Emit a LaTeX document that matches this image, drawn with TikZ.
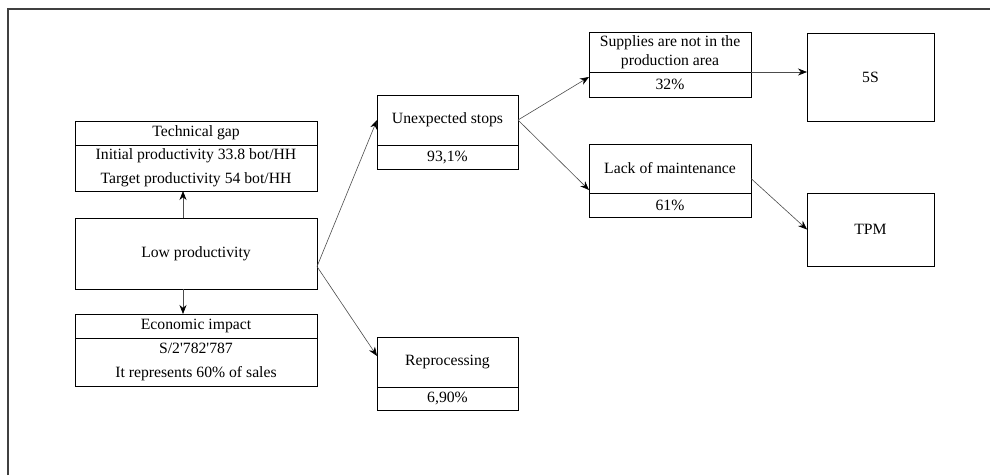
\documentclass[tikz,border=0pt]{standalone}
\usepackage{fontspec}
\setmainfont{Liberation Serif}
\usetikzlibrary{arrows.meta,positioning}

\begin{document}
\begin{tikzpicture}[x=1pt, y=-1pt,
  box/.style={draw, line width=1pt, align=center, inner sep=0pt, outer sep=0pt,
              font=\fontsize{15.7}{19}\selectfont},
  link/.style={-{Stealth[length=9pt,width=7pt,black]}, draw=black!70, line width=0.6pt}]
\useasboundingbox (0,0) rectangle (990,475);
\draw[line width=1.5pt, black!75] (8,475) -- (8,9) -- (990,9);
% left column
\node[box, minimum width=242pt, minimum height=24pt] (gaphead) at (196,133) {Technical gap};
\node[box, minimum width=242pt, minimum height=46pt, below=0pt of gaphead] (gapval)
  {Initial productivity 33.8 bot/HH\\[5pt] Target productivity 54 bot/HH};
\node[box, minimum width=242pt, minimum height=71pt] (low) at (196,253.5) {Low productivity};
\node[box, minimum width=242pt, minimum height=24pt] (econhead) at (196,326) {Economic impact};
\node[box, minimum width=242pt, minimum height=48pt, below=0pt of econhead] (econval)
  {S/2\textquotesingle782\textquotesingle787\\[5pt] It represents 60\% of sales};
% causes
\node[box, minimum width=141pt, minimum height=50pt] (stopshead) at (447.5,120) {Unexpected stops};
\node[box, minimum width=141pt, minimum height=24pt, below=0pt of stopshead] (stopsval) {93,1\%};
\node[box, minimum width=141pt, minimum height=50pt] (reprochead) at (447.5,362) {Reprocessing};
\node[box, minimum width=141pt, minimum height=23pt, below=0pt of reprochead] (reprocval) {6,90\%};
% sub-causes
\node[box, minimum width=162pt, minimum height=40pt] (supphead) at (670,52)
  {Supplies are not in the\\production area};
\node[box, minimum width=162pt, minimum height=25pt, below=0pt of supphead] (suppval) {32\%};
\node[box, minimum width=162pt, minimum height=49pt] (lackhead) at (670,168.5) {Lack of maintenance};
\node[box, minimum width=162pt, minimum height=24pt, below=0pt of lackhead] (lackval) {61\%};
% tools
\node[box, minimum width=127pt, minimum height=88pt] (fives) at (870.5,77) {5S};
\node[box, minimum width=127pt, minimum height=73pt] (tpm) at (870.5,229.5) {TPM};
% connectors
\draw[link] ([xshift=-13pt]low.north) -- ([xshift=-13pt]gapval.south);
\draw[link] ([xshift=-13pt]low.south) -- ([xshift=-13pt]econhead.north);
\draw[link] ([yshift=-13pt]low.east) -- (stopshead.west);
\draw[link] ([yshift=-13pt]low.east) -- ([yshift=6pt]reprochead.west);
\draw[link] (stopshead.east) -- ([yshift=-5pt]supphead.south west);
\draw[link] (stopshead.east) -- ([yshift=3pt]lackhead.south west);
\draw[link] (supphead.south east) -- (supphead.south east -| fives.west);
\draw[link] ([yshift=-10pt]lackhead.east) -- (tpm.west);
\end{tikzpicture}
\end{document}
